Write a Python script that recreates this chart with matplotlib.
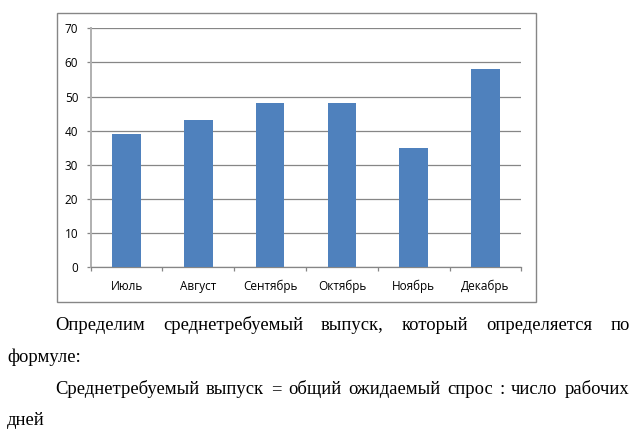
import matplotlib
matplotlib.use("Agg")
import matplotlib.pyplot as plt
from matplotlib.patches import Rectangle

months = ["Июль", "Август", "Сентябрь", "Октябрь", "Ноябрь", "Декабрь"]
values = [39, 43, 48, 48, 35, 58]
yticks = [0, 10, 20, 30, 40, 50, 60, 70]

line1 = ["Определим", "среднетребуемый", "выпуск,", "который", "определяется", "по"]
line2 = "формуле:"
line3 = ["Среднетребуемый", "выпуск", "=", "общий", "ожидаемый", "спрос", ":", "число", "рабочих"]
line4 = "дней"

W, H = 637, 437
DPI = 100
GRID = "#868686"
BAR = "#4F81BD"

plt.rcParams["font.family"] = ["Open Sans", "DejaVu Sans"]

fig = plt.figure(figsize=(W / DPI, H / DPI), dpi=DPI)


def px(x0, y0, x1, y1):
    # pixel box (top-left origin) -> figure fraction rect
    return [x0 / W, 1 - y1 / H, (x1 - x0) / W, (y1 - y0) / H]


# outer chart frame
frame = px(56.7, 13.3, 536, 301.7)
fig.patches.append(Rectangle((frame[0], frame[1]), frame[2], frame[3],
                             transform=fig.transFigure, fill=False,
                             edgecolor=GRID, linewidth=1.0))

ax = fig.add_axes(px(90.7, 28.3, 521.3, 267.3))
x = list(range(len(months)))
ax.bar(x, values, width=0.4, color=BAR, zorder=3)

ax.set_xlim(-0.5, len(months) - 0.5)
ax.set_ylim(0, 70)
ax.set_yticks(yticks)
ax.set_xticks(x)
ax.set_xticklabels(months)
ax.set_xticks([i - 0.5 for i in range(len(months) + 1)], minor=True)

ax.grid(axis="y", color=GRID, linewidth=0.9, zorder=0)
for s in ["top", "right"]:
    ax.spines[s].set_visible(False)
ax.spines["left"].set_color("#B0B0B0")
ax.spines["left"].set_linewidth(1.4)
ax.spines["bottom"].set_color(GRID)
ax.spines["bottom"].set_linewidth(0.9)

ax.tick_params(axis="x", which="major", length=0, pad=9, labelsize=8.5)
ax.tick_params(axis="x", which="minor", length=3, width=0.9, color=GRID, direction="out")
ax.tick_params(axis="y", length=3, width=0.9, color=GRID, pad=6, labelsize=8.5)

# body text below the chart
serif = ["Liberation Serif", "DejaVu Serif"]
fs = 13.4
fig.canvas.draw()
renderer = fig.canvas.get_renderer()


def justify(words, base, x0, x1):
    texts = [fig.text(0, 1 - base / H, w, family=serif, fontsize=fs, va="baseline")
             for w in words]
    widths = [t.get_window_extent(renderer).width for t in texts]
    gap = (x1 - x0 - sum(widths)) / (len(words) - 1)
    pos = x0
    for t, w in zip(texts, widths):
        t.set_x(pos / W)
        pos += w + gap


justify(line1, 330, 55, 630)
fig.text(7 / W, 1 - 362 / H, line2, family=serif, fontsize=fs, va="baseline")
justify(line3, 394, 55, 629)
fig.text(7 / W, 1 - 425 / H, line4, family=serif, fontsize=fs, va="baseline")

fig.savefig("out.png", dpi=DPI)
